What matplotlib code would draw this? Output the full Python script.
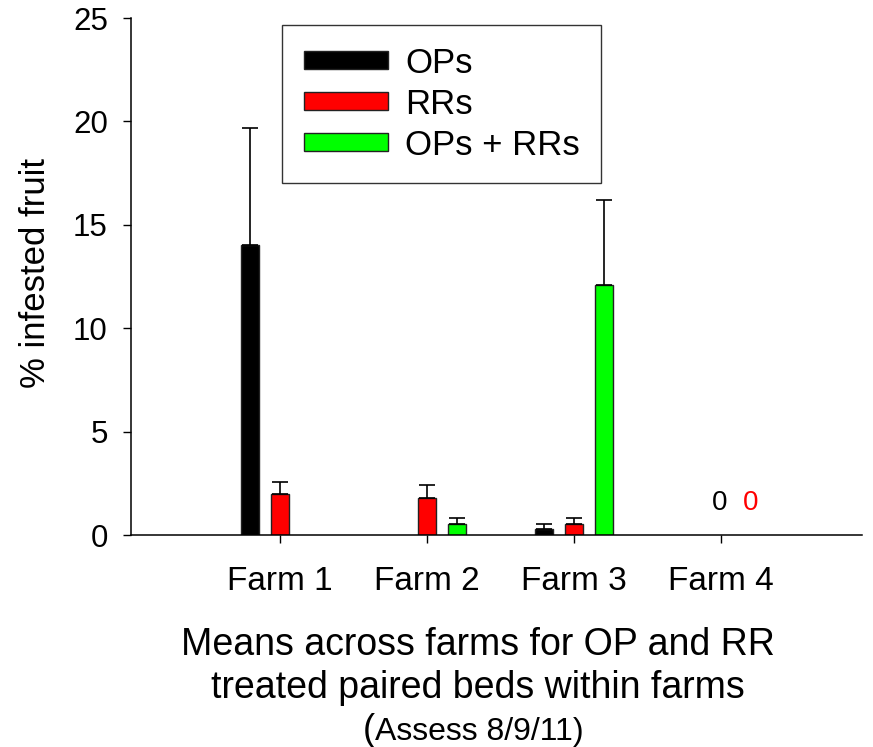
import numpy as np
import matplotlib.pyplot as plt
from matplotlib.patches import Patch

plt.rcParams['font.family'] = ['Liberation Sans', 'DejaVu Sans']

farms = ['Farm 1', 'Farm 2', 'Farm 3', 'Farm 4']
series = ['OPs', 'RRs', 'OPs + RRs']
colors = ['#000000', '#ff0000', '#00ff00']

# means and upper standard errors (nan = no bar)
ops = [14.0, np.nan, 0.29, np.nan]
ops_err = [5.7, np.nan, 0.24, np.nan]
rrs = [1.97, 1.77, 0.53, np.nan]
rrs_err = [0.61, 0.65, 0.31, np.nan]
both = [np.nan, 0.53, 12.1, np.nan]
both_err = [np.nan, 0.31, 4.1, np.nan]

values = [ops, rrs, both]
errors = [ops_err, rrs_err, both_err]

fig = plt.figure(figsize=(8.73, 7.47), dpi=100)
ax = fig.add_axes([0.1506, 0.2838, 0.8368, 0.6921])

x = np.arange(len(farms))
offsets = [-0.204, 0.0, 0.204]
width = 0.122
for vals, errs, off, col in zip(values, errors, offsets, colors):
    vals = np.array(vals)
    errs = np.array(errs)
    ok = ~np.isnan(vals)
    ax.bar(x[ok] + off, vals[ok], width, color=col, edgecolor='#222222', linewidth=1)
    ax.errorbar(x[ok] + off, vals[ok], yerr=[np.zeros(ok.sum()), errs[ok]],
                fmt='none', ecolor='black', elinewidth=1.2, capsize=6, capthick=1.2)

# farm 4 had no infested fruit
ax.text(2.99, 1.21, '0', color='black', fontsize=20, ha='center', va='baseline')
ax.text(3.204, 1.21, '0', color='red', fontsize=20, ha='center', va='baseline')

ax.set_xlim(-1.01, 3.96)
ax.set_ylim(0, 25)
ax.set_yticks([0, 5, 10, 15, 20, 25])
ax.set_xticks(x)
ax.set_xticklabels(farms)
ax.tick_params(axis='both', direction='out', length=6, width=1)
ax.tick_params(axis='y', labelsize=22.5, pad=11)
ax.tick_params(axis='x', labelsize=24, pad=16)
for s in ['left', 'bottom']:
    ax.spines[s].set_linewidth(1.1)
ax.spines['top'].set_visible(False)
ax.spines['right'].set_visible(False)

fig.text(0.0412, 0.635, '% infested fruit', fontsize=25, rotation=90,
         ha='center', va='center')

handles = [Patch(facecolor=c, edgecolor='#222222') for c in colors]
leg = ax.legend(handles, series, loc='upper left', bbox_to_anchor=(0.323, 0.9665),
                bbox_transform=fig.transFigure, borderaxespad=0,
                fontsize=25, frameon=True, fancybox=False, edgecolor='black',
                handlelength=2.42, handleheight=0.43, labelspacing=0.23,
                borderpad=0.62, handletextpad=0.5)
leg.get_frame().set_linewidth(1)

cx = 0.547
fig.text(cx, 1 - 655 / 747, 'Means across farms for OP and RR', fontsize=27,
         ha='center', va='baseline')
fig.text(cx, 1 - 698 / 747, 'treated paired beds within farms', fontsize=27,
         ha='center', va='baseline')
fig.text(363 / 873, 1 - 740 / 747, '(', fontsize=26, ha='left', va='baseline')
fig.text(375 / 873, 1 - 740 / 747, 'Assess 8/9/11)', fontsize=23, ha='left', va='baseline')

fig.savefig('out.png', dpi=100)
